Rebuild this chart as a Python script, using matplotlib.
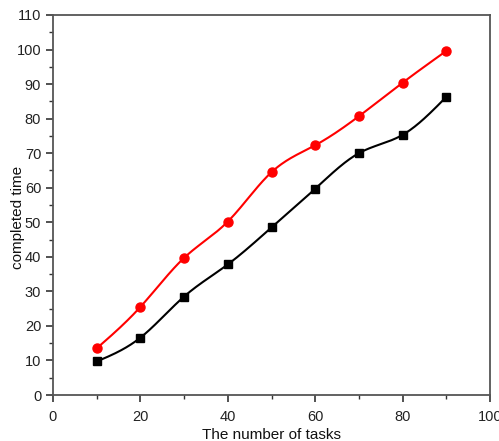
import numpy as np
import matplotlib
matplotlib.use("Agg")
import matplotlib.pyplot as plt
from matplotlib.ticker import MultipleLocator

tasks = [10, 20, 30, 40, 50, 60, 70, 80, 90]
red_series = [13.5, 25.5, 39.7, 50.2, 64.5, 72.3, 80.7, 90.4, 99.6]
black_series = [9.7, 16.6, 28.5, 37.8, 48.5, 59.7, 70.0, 75.3, 86.3]


def natural_spline(x, y, n=300):
    x = np.asarray(x, float)
    y = np.asarray(y, float)
    m = len(x)
    h = np.diff(x)
    A = np.zeros((m, m))
    b = np.zeros(m)
    A[0, 0] = 1
    A[-1, -1] = 1
    for i in range(1, m - 1):
        A[i, i - 1] = h[i - 1]
        A[i, i] = 2 * (h[i - 1] + h[i])
        A[i, i + 1] = h[i]
        b[i] = 3 * ((y[i + 1] - y[i]) / h[i] - (y[i] - y[i - 1]) / h[i - 1])
    c = np.linalg.solve(A, b)
    xs = np.linspace(x[0], x[-1], n)
    ys = np.empty_like(xs)
    for k, xv in enumerate(xs):
        i = min(np.searchsorted(x, xv, side="right") - 1, m - 2)
        dx = xv - x[i]
        bb = (y[i + 1] - y[i]) / h[i] - h[i] * (2 * c[i] + c[i + 1]) / 3
        d = (c[i + 1] - c[i]) / (3 * h[i])
        ys[k] = y[i] + bb * dx + c[i] * dx ** 2 + d * dx ** 3
    return xs, ys


plt.rcParams['font.family'] = ['Liberation Sans', 'DejaVu Sans']

fig = plt.figure(figsize=(4.99, 4.41), dpi=100)
ax = fig.add_axes([0.1062, 0.1043, 0.8758, 0.8617])

for ys, color, marker in [(red_series, 'red', 'o'), (black_series, 'black', 's')]:
    sx, sy = natural_spline(tasks, ys)
    ax.plot(sx, sy, color=color, lw=1.5, zorder=2)
    ax.plot(tasks, ys, linestyle='none', marker=marker, color=color,
            markersize=6.5 if marker == 'o' else 6, zorder=3)

ax.set_xlim(0, 100)
ax.set_ylim(0, 110)
ax.xaxis.set_major_locator(MultipleLocator(20))
ax.xaxis.set_minor_locator(MultipleLocator(10))
ax.yaxis.set_major_locator(MultipleLocator(10))
ax.yaxis.set_minor_locator(MultipleLocator(5))
ax.tick_params(which='major', direction='out', length=5, width=1.2, labelsize=10.5, colors='#333333')
ax.tick_params(which='minor', direction='out', length=3, width=1.0, colors='#333333')
ax.tick_params(axis='x', which='major', pad=5.5)
ax.tick_params(labelcolor='#222222')
for s in ax.spines.values():
    s.set_color('#555555')
    s.set_linewidth(1.3)

ax.set_xlabel('The number of tasks', fontsize=11, labelpad=3, color='#111111')
ax.set_ylabel('completed time', fontsize=11, color='#111111')
ax.yaxis.set_label_coords(-0.064, 0.468)

fig.savefig('out.png', dpi=100)
